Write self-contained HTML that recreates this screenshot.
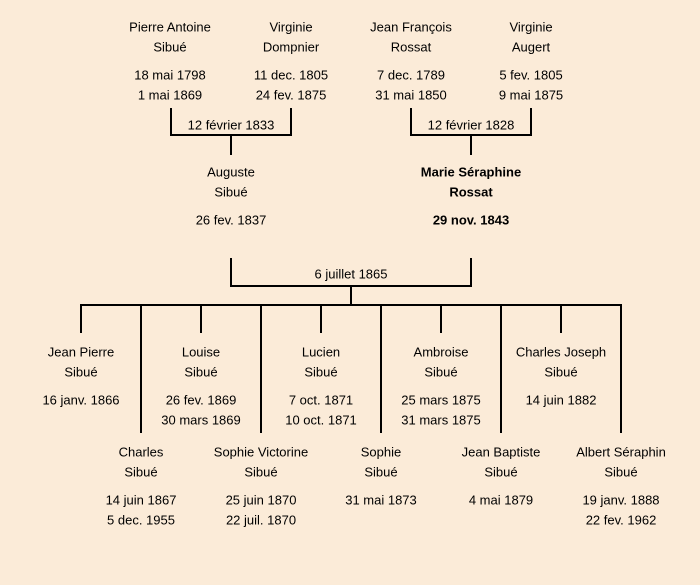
<!DOCTYPE html>
<html><head><meta charset="utf-8"><style>
html,body{margin:0;padding:0;background:#fbebd8;}
svg{display:block;}
text{font-family:"Liberation Sans",sans-serif;font-size:13px;fill:#000;text-anchor:middle;dominant-baseline:central;}
.b{font-weight:bold;}
</style></head><body>
<svg width="700" height="585" xmlns="http://www.w3.org/2000/svg">
<rect width="700" height="585" fill="#fbebd8"/>
<g stroke="#000" stroke-width="2" fill="none">
<polyline points="171,108 171,135 291,135 291,108"/>
<line x1="231" y1="135" x2="231" y2="155"/>
<polyline points="411,108 411,135 531,135 531,108"/>
<line x1="471" y1="135" x2="471" y2="155"/>
<polyline points="231,258 231,286 471,286 471,258"/>
<line x1="351" y1="286" x2="351" y2="305"/>
<line x1="80" y1="305" x2="622" y2="305"/>
<line x1="81" y1="305" x2="81" y2="333"/>
<line x1="201" y1="305" x2="201" y2="333"/>
<line x1="321" y1="305" x2="321" y2="333"/>
<line x1="441" y1="305" x2="441" y2="333"/>
<line x1="561" y1="305" x2="561" y2="333"/>
<line x1="141" y1="305" x2="141" y2="433"/>
<line x1="261" y1="305" x2="261" y2="433"/>
<line x1="381" y1="305" x2="381" y2="433"/>
<line x1="501" y1="305" x2="501" y2="433"/>
<line x1="621" y1="305" x2="621" y2="433"/>
</g>
<text x="170" y="27">Pierre Antoine</text><text x="170" y="47">Sibué</text><text x="170" y="75">18 mai 1798</text><text x="170" y="95">1 mai 1869</text>
<text x="291" y="27">Virginie</text><text x="291" y="47">Dompnier</text><text x="291" y="75">11 dec. 1805</text><text x="291" y="95">24 fev. 1875</text>
<text x="411" y="27">Jean François</text><text x="411" y="47">Rossat</text><text x="411" y="75">7 dec. 1789</text><text x="411" y="95">31 mai 1850</text>
<text x="531" y="27">Virginie</text><text x="531" y="47">Augert</text><text x="531" y="75">5 fev. 1805</text><text x="531" y="95">9 mai 1875</text>
<text x="231" y="125">12 février 1833</text>
<text x="471" y="125">12 février 1828</text>
<text x="231" y="172">Auguste</text><text x="231" y="192">Sibué</text><text x="231" y="220">26 fev. 1837</text>
<text class="b" x="471" y="172">Marie Séraphine</text><text class="b" x="471" y="192">Rossat</text><text class="b" x="471" y="220">29 nov. 1843</text>
<text x="351" y="274">6 juillet 1865</text>
<text x="81" y="352">Jean Pierre</text><text x="81" y="372">Sibué</text><text x="81" y="400">16 janv. 1866</text>
<text x="201" y="352">Louise</text><text x="201" y="372">Sibué</text><text x="201" y="400">26 fev. 1869</text><text x="201" y="420">30 mars 1869</text>
<text x="321" y="352">Lucien</text><text x="321" y="372">Sibué</text><text x="321" y="400">7 oct. 1871</text><text x="321" y="420">10 oct. 1871</text>
<text x="441" y="352">Ambroise</text><text x="441" y="372">Sibué</text><text x="441" y="400">25 mars 1875</text><text x="441" y="420">31 mars 1875</text>
<text x="561" y="352">Charles Joseph</text><text x="561" y="372">Sibué</text><text x="561" y="400">14 juin 1882</text>
<text x="141" y="452">Charles</text><text x="141" y="472">Sibué</text><text x="141" y="500">14 juin 1867</text><text x="141" y="520">5 dec. 1955</text>
<text x="261" y="452">Sophie Victorine</text><text x="261" y="472">Sibué</text><text x="261" y="500">25 juin 1870</text><text x="261" y="520">22 juil. 1870</text>
<text x="381" y="452">Sophie</text><text x="381" y="472">Sibué</text><text x="381" y="500">31 mai 1873</text>
<text x="501" y="452">Jean Baptiste</text><text x="501" y="472">Sibué</text><text x="501" y="500">4 mai 1879</text>
<text x="621" y="452">Albert Séraphin</text><text x="621" y="472">Sibué</text><text x="621" y="500">19 janv. 1888</text><text x="621" y="520">22 fev. 1962</text>
</svg>
</body></html>
